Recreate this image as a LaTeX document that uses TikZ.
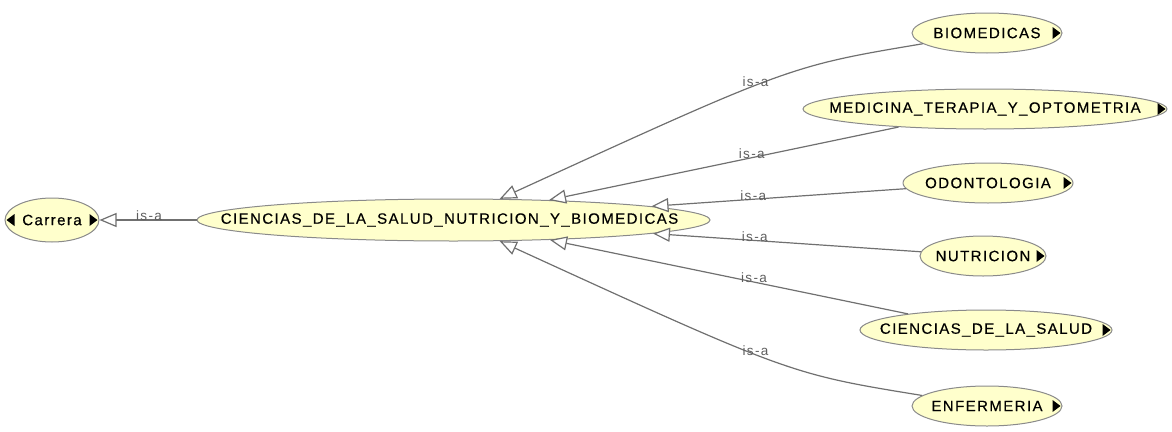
\documentclass[tikz,border=0pt]{standalone}
\usepackage{fontspec}
\setmainfont{Liberation Sans}
\newfontfamily\classfont[LetterSpace=9.5,FakeBold=0.4]{Liberation Sans}
\newfontfamily\relfont[LetterSpace=10]{Liberation Sans}
\usetikzlibrary{shapes.geometric,arrows.meta}
\definecolor{classfill}{HTML}{FFFFCC}
\definecolor{classline}{HTML}{8A8A8A}
\definecolor{edgegray}{HTML}{707070}
\definecolor{relgray}{HTML}{5E5E5E}
\begin{document}
\begin{tikzpicture}[x=1pt,y=-1pt,
  cls/.style={ellipse, draw=classline, line width=1pt, fill=classfill,
    inner sep=0pt, minimum height=40pt, text=black,
    font=\classfont\fontsize{15}{18}\selectfont},
  isa/.style={draw=edgegray, line width=1.2pt,
    -{Triangle[length=17pt,width=14pt,fill=white]}},
  rel/.style={font=\relfont\fontsize{13.5}{16}\selectfont, text=relgray,
    inner sep=0pt, yshift=4pt},
  expander/.style={fill=black}]
\useasboundingbox (0,0) rectangle (1172,431);

% classes
\node[cls, minimum width=94pt, minimum height=44pt] (carrera) at (52,220) {\makebox[0pt]{Carrera}};
\node[cls, minimum width=513pt, minimum height=42pt] (main) at (453.5,220) {\makebox[0pt]{CIENCIAS\_DE\_LA\_SALUD\_NUTRICION\_Y\_BIOMEDICAS\hspace{8pt}}};
\node[cls, minimum width=150pt] (bio) at (987,33) {\makebox[0pt]{BIOMEDICAS}};
\node[cls, minimum width=364pt] (med) at (985,109) {\makebox[0pt]{MEDICINA\_TERAPIA\_Y\_OPTOMETRIA}};
\node[cls, minimum width=170pt] (odo) at (988,183) {\makebox[0pt]{ODONTOLOGIA}};
\node[cls, minimum width=126pt] (nut) at (983,256) {\makebox[0pt]{NUTRICION}};
\node[cls, minimum width=252pt] (cds) at (986,330) {\makebox[0pt]{CIENCIAS\_DE\_LA\_SALUD}};
\node[cls, minimum width=150pt] (enf) at (987,406) {\makebox[0pt]{ENFERMERIA}};

% expand markers
\foreach \n in {carrera,bio,med,odo,nut,cds,enf}
  \fill[expander] ([xshift=-10pt]\n.east) ++(0,-6) -- ++(8,6) -- ++(-8,6) -- cycle;
\fill[expander] ([xshift=10pt]carrera.west) ++(0,-6) -- ++(-8,6) -- ++(8,6) -- cycle;

% is-a relations
\draw[isa] (main) -- (carrera) node[rel, pos=0.49] {is-a};
\draw[isa] (bio) .. controls (790,66) .. (main) node[rel, pos=0.545] {is-a};
\draw[isa] (med) -- (main) node[rel, pos=0.42] {is-a};
\draw[isa] (odo) -- (main) node[rel, pos=0.6] {is-a};
\draw[isa] (nut) -- (main) node[rel, pos=0.62] {is-a};
\draw[isa] (cds) -- (main) node[rel, pos=0.43] {is-a};
\draw[isa] (enf) .. controls (790,374) .. (main) node[rel, pos=0.545] {is-a};
\end{tikzpicture}
\end{document}
